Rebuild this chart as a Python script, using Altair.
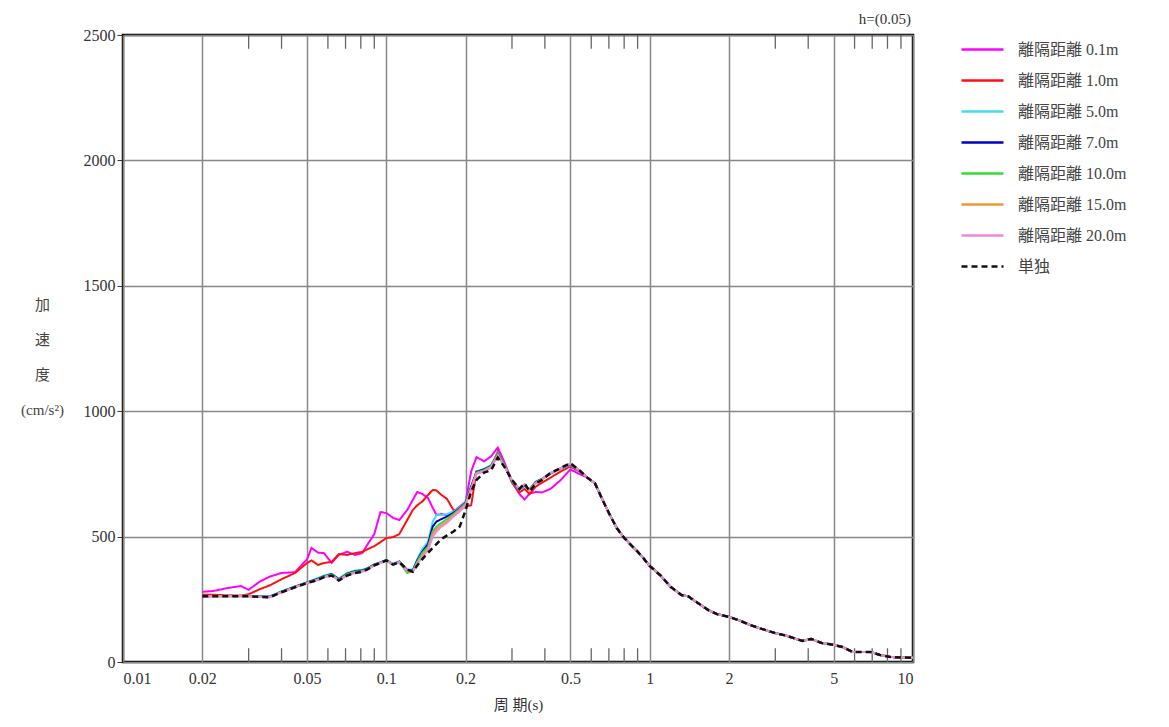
import altair as alt
import pandas as pd

# Periods (s)
T_head = [0.020, 0.022, 0.025, 0.028, 0.030, 0.033, 0.036, 0.040, 0.045, 0.050,
          0.052, 0.055, 0.058, 0.062, 0.066, 0.071, 0.076, 0.081, 0.085, 0.090,
          0.095, 0.100, 0.106, 0.112, 0.120, 0.126, 0.131, 0.137, 0.144, 0.150,
          0.155, 0.162, 0.170, 0.180, 0.190, 0.200, 0.210, 0.220, 0.235, 0.250,
          0.265, 0.280, 0.300, 0.320, 0.335, 0.350, 0.370, 0.390, 0.420, 0.460,
          0.500, 0.540]
T_tail = [0.58, 0.62, 0.66, 0.70, 0.75, 0.80, 0.85, 0.90, 0.95, 1.0,
          1.1, 1.2, 1.32, 1.4, 1.5, 1.67, 1.8, 2.0, 2.2, 2.4,
          2.7, 3.0, 3.3, 3.6, 3.8, 4.1, 4.5, 5.0, 5.4, 5.9,
          6.9, 7.5, 8.2, 9.0, 10.0]
tail = [735, 712, 650, 594, 534, 495, 466, 440, 412, 383,
        345, 300, 267, 262, 240, 207, 191, 180, 165, 148,
        130, 115, 105, 92, 84, 92, 76, 68, 60, 40,
        40, 28, 20, 18, 17]

s_01 = [280, 283, 295, 303, 288, 320, 340, 355, 358, 410,
        455, 436, 434, 395, 427, 440, 427, 434, 470, 510,
        598, 594, 575, 566, 606, 646, 678, 670, 654, 615,
        586, 590, 585, 600, 620, 640, 760, 817, 800, 820,
        855, 800, 720, 670, 648, 672, 678, 676, 690, 726,
        768, 750]
s_10 = [268, 268, 266, 265, 270, 290, 305, 330, 355, 395,
        405, 387, 395, 399, 430, 427, 434, 439, 450, 462,
        478, 494, 498, 510, 566, 606, 625, 640, 666, 686,
        684, 666, 650, 605, 606, 620, 625, 760, 765, 775,
        840, 790, 715, 676, 690, 670, 700, 715, 735, 760,
        780, 760]
s_50 = [262, 263, 264, 264, 264, 262, 262, 282, 302, 318,
        325, 335, 345, 352, 332, 355, 365, 368, 375, 390,
        398, 408, 392, 402, 370, 368, 410, 450, 480, 560,
        585, 586, 590, 600, 615, 640, 700, 760, 770, 785,
        835, 790, 720, 685, 700, 690, 720, 730, 750, 770,
        785, 762]
s_70 = [262, 263, 263, 263, 263, 261, 260, 280, 300, 317,
        323, 332, 342, 350, 330, 352, 362, 365, 373, 388,
        397, 406, 390, 400, 366, 365, 405, 440, 470, 540,
        560, 570, 580, 595, 612, 635, 700, 758, 768, 782,
        830, 788, 722, 688, 705, 688, 718, 730, 752, 772,
        788, 764]
s_100 = [262, 262, 262, 262, 262, 260, 259, 279, 299, 316,
         321, 330, 340, 348, 328, 350, 360, 362, 372, 386,
         396, 405, 388, 398, 355, 362, 400, 435, 460, 520,
         540, 555, 570, 590, 610, 632, 695, 755, 765, 780,
         828, 786, 724, 690, 706, 686, 716, 729, 753, 773,
         790, 765]
s_150 = [262, 262, 262, 262, 262, 260, 258, 278, 298, 315,
         320, 328, 339, 346, 326, 346, 356, 361, 371, 385,
         395, 405, 388, 398, 362, 360, 392, 425, 450, 510,
         530, 545, 560, 585, 605, 628, 690, 752, 762, 778,
         825, 784, 725, 690, 708, 684, 715, 728, 753, 773,
         791, 765]
s_200 = [262, 262, 262, 262, 262, 260, 258, 278, 298, 315,
         320, 327, 338, 345, 325, 345, 355, 360, 370, 385,
         395, 405, 388, 398, 364, 360, 390, 420, 445, 500,
         520, 540, 555, 580, 600, 625, 688, 750, 760, 776,
         822, 782, 725, 690, 709, 683, 714, 728, 753, 773,
         791, 765]
s_single = [262, 262, 262, 262, 262, 260, 258, 278, 298, 315,
            320, 327, 338, 345, 325, 345, 355, 360, 370, 385,
            395, 405, 388, 398, 368, 360, 385, 410, 435, 455,
            470, 490, 505, 520, 540, 605, 680, 726, 755, 765,
            815, 780, 726, 690, 712, 680, 712, 726, 754, 774,
            793, 765]

names = ["離隔距離 0.1m", "離隔距離 1.0m", "離隔距離 5.0m", "離隔距離 7.0m",
         "離隔距離 10.0m", "離隔距離 15.0m", "離隔距離 20.0m", "単独"]
colors = ["#FF00FF", "#FF1010", "#44DDEE", "#0000CC",
          "#33DD33", "#EE9933", "#EE88DD", "#111111"]
dashes = [[1, 0]] * 7 + [[6, 4]]
heads = [s_01, s_10, s_50, s_70, s_100, s_150, s_200, s_single]

x_major = [0.01, 0.02, 0.05, 0.1, 0.2, 0.5, 1, 2, 5, 10]
x_minor = [0.03, 0.04, 0.06, 0.07, 0.08, 0.09, 0.3, 0.4, 0.6, 0.7, 0.8, 0.9,
           3, 4, 6, 7, 8, 9]
y_major = [0, 500, 1000, 1500, 2000, 2500]
damping_label = ["h=(0.05)"]

rows = []
for name, head in zip(names, heads):
    for t, v in zip(T_head + T_tail, head + tail):
        rows.append({"series": name, "T": t, "A": v})
df = pd.DataFrame(rows)

SERIF = "Liberation Serif, Noto Sans CJK JP"

xscale = alt.Scale(type="log", domain=[0.01, 10], nice=False)
yscale = alt.Scale(domain=[0, 2500], nice=False)

x_axis = alt.Axis(values=x_major, format="~g", grid=True, gridColor="#888888",
                  gridWidth=1.5, ticks=False, domain=False, labelFont=SERIF,
                  labelFontSize=16, labelColor="#333", labelPadding=8,
                  title="周 期(s)", titleFont=SERIF, titleFontSize=15,
                  titleFontWeight="normal", titleColor="#333",
                  titleBaseline="middle", titleY=42)
y_axis = alt.Axis(values=y_major, format="d", grid=True, gridColor="#888888",
                  gridWidth=1.5, tickSize=6, tickColor="#333", domain=False,
                  labelFont=SERIF, labelFontSize=16, labelColor="#333",
                  labelPadding=2,
                  title=["加", "速", "度", "(cm/s²)"], titleAngle=0,
                  titleAlign="center", titleBaseline="top", titleX=-81,
                  titleY=262, titleLineHeight=35, titleFont=SERIF,
                  titleFontSize=15, titleFontWeight="normal", titleColor="#444")

color_enc = alt.Color("series:N", scale=alt.Scale(domain=names, range=colors),
                      legend=alt.Legend(title=None))
dash_enc = alt.StrokeDash("series:N", scale=alt.Scale(domain=names, range=dashes),
                          legend=alt.Legend(title=None))

colored = alt.Chart(df).transform_filter(alt.datum.series != "単独").mark_line(
    strokeWidth=2, clip=True
).encode(
    x=alt.X("T:Q", scale=xscale, axis=x_axis),
    y=alt.Y("A:Q", scale=yscale, axis=y_axis),
    color=color_enc,
    strokeDash=dash_enc,
    order=alt.Order("T:Q"),
)

single = alt.Chart(df).transform_filter(alt.datum.series == "単独").mark_line(
    strokeWidth=2.5, clip=True
).encode(
    x=alt.X("T:Q", scale=xscale),
    y=alt.Y("A:Q", scale=yscale),
    color=color_enc,
    strokeDash=dash_enc,
    order=alt.Order("T:Q"),
)

minor_df = pd.DataFrame({"T": x_minor, "b0": [0] * len(x_minor),
                         "b1": [55] * len(x_minor),
                         "t0": [2445] * len(x_minor),
                         "t1": [2500] * len(x_minor)})
ticks_bottom = alt.Chart(minor_df).mark_rule(color="#666", strokeWidth=1.3).encode(
    x=alt.X("T:Q", scale=xscale), y=alt.Y("b0:Q", scale=yscale), y2="b1:Q")
ticks_top = alt.Chart(minor_df).mark_rule(color="#666", strokeWidth=1.3).encode(
    x=alt.X("T:Q", scale=xscale), y=alt.Y("t0:Q", scale=yscale), y2="t1:Q")

h_label = alt.Chart(pd.DataFrame({"t": damping_label})).mark_text(
    align="right", baseline="alphabetic", font="Liberation Serif", fontSize=15,
    color="#333"
).encode(text="t:N", x=alt.value(788), y=alt.value(-11))

chart = alt.layer(ticks_bottom, ticks_top, colored, single, h_label).properties(
    width=790, height=627,
    autosize=alt.AutoSizeParams(type="none"),
    padding={"left": 115, "top": 27, "right": 246, "bottom": 57},
    background="white",
).configure_view(stroke="black", strokeWidth=2.5).configure_legend(
    orient="none", legendX=851, legendY=6, symbolType="M-3,0H3",
    symbolSize=196, symbolStrokeWidth=2.5, labelFont=SERIF, labelFontSize=16,
    labelColor="#444", labelOffset=27, rowPadding=14, padding=0,
)

chart.save("out.html", embed_options={"renderer": "svg", "actions": False})
